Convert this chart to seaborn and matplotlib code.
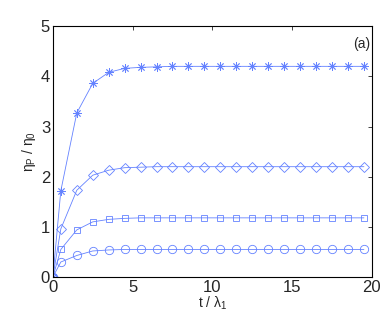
import matplotlib
matplotlib.use('Agg')
import matplotlib.pyplot as plt
import seaborn as sns
import pandas as pd

t = [0, 0.5, 1.5, 2.5, 3.5, 4.5, 5.5, 6.5, 7.5, 8.5, 9.5, 10.5,
     11.5, 12.5, 13.5, 14.5, 15.5, 16.5, 17.5, 18.5, 19.5]
eta_star = [0, 1.72, 3.27, 3.86, 4.08, 4.16, 4.18, 4.19, 4.2, 4.2, 4.2, 4.2,
            4.2, 4.2, 4.2, 4.2, 4.2, 4.2, 4.2, 4.2, 4.2]
eta_diamond = [0, 0.96, 1.73, 2.03, 2.13, 2.18, 2.19, 2.2, 2.2, 2.2, 2.2, 2.2,
               2.2, 2.2, 2.2, 2.2, 2.2, 2.2, 2.2, 2.2, 2.2]
eta_square = [0, 0.55, 0.94, 1.10, 1.15, 1.17, 1.18, 1.18, 1.18, 1.18, 1.18, 1.18,
              1.18, 1.18, 1.18, 1.18, 1.18, 1.18, 1.18, 1.18, 1.18]
eta_circle = [0, 0.30, 0.43, 0.52, 0.54, 0.55, 0.55, 0.55, 0.55, 0.55, 0.55, 0.55,
              0.55, 0.55, 0.55, 0.55, 0.55, 0.55, 0.55, 0.55, 0.55]

sns.set_style('white')
plt.rcParams['font.family'] = ['Liberation Sans', 'DejaVu Sans']
plt.rcParams['mathtext.fontset'] = 'custom'
plt.rcParams['mathtext.rm'] = 'Liberation Sans'
plt.rcParams['mathtext.it'] = 'Liberation Sans'

color = '#6482ff'
fig = plt.figure(figsize=(3.83, 3.12), dpi=100)
ax = fig.add_axes([0.138, 0.112, 0.833, 0.804])

series = [(eta_star, (8, 2, 0), 6), (eta_diamond, 'D', 5.5),
          (eta_square, 's', 5), (eta_circle, 'o', 6)]
for vals, mk, ms in series:
    df = pd.DataFrame({'t': t, 'eta': vals})
    mk_size = ms if mk != 'D' else ms * 0.85
    sns.lineplot(data=df, x='t', y='eta', ax=ax, color=color, lw=0.6,
                 marker=mk, markersize=mk_size, markerfacecolor='none',
                 markeredgecolor=color, markeredgewidth=0.6)

ax.set_xlim(0, 20)
ax.set_ylim(0, 5)
ax.set_xticks([0, 5, 10, 15, 20])
ax.set_yticks([0, 1, 2, 3, 4, 5])
ax.tick_params(direction='in', length=3, top=True, right=True, labelsize=12,
               width=0.6, pad=2)
for s in ax.spines.values():
    s.set_linewidth(0.8)
    s.set_color('black')
ax.set_xlabel(r't / $\lambda_1$', fontsize=10, labelpad=0)
ax.set_ylabel(r'$\eta_P$ / $\eta_0$', fontsize=10, labelpad=2)
ax.text(0.995, 0.955, '(a)', transform=ax.transAxes, ha='right', va='top',
        fontsize=10)

fig.savefig('out.png', dpi=100)
